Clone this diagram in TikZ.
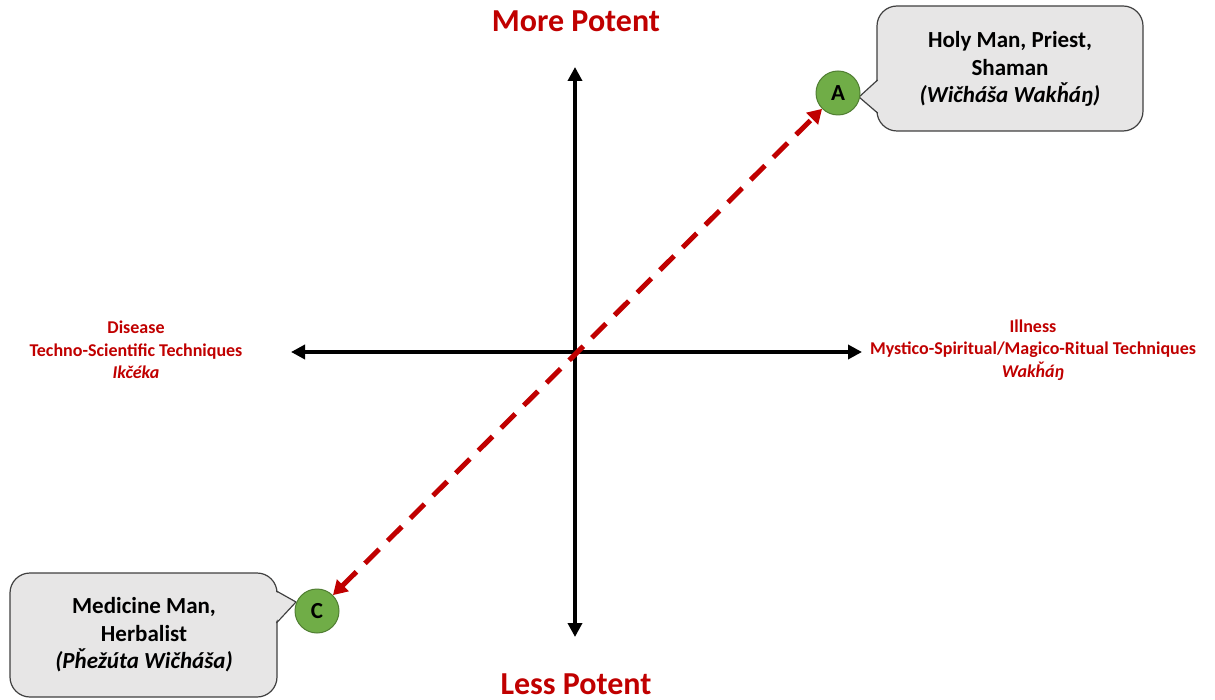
\documentclass[tikz,border=0pt]{standalone}
\usepackage{fontspec}
\setmainfont{Carlito}
\usetikzlibrary{arrows.meta}
\definecolor{dred}{HTML}{C00000}
\definecolor{lgreen}{HTML}{70AD47}
\definecolor{dgreen}{HTML}{507E32}
\definecolor{boxgray}{HTML}{E7E6E6}
\definecolor{boxline}{HTML}{404040}
\tikzset{
  axis/.style={line width=4pt,{Triangle[length=14pt,width=14pt]}-{Triangle[length=14pt,width=14pt]}},
  link/.style={dred,line width=5pt,dash pattern=on 20pt off 12pt,
    {Triangle[length=14pt,width=16pt]}-{Triangle[length=14pt,width=16pt]}},
  mark circ/.style={circle,fill=lgreen,draw=dgreen,line width=1pt,minimum size=44pt,inner sep=0pt,font=\fontsize{23}{26}\selectfont\bfseries},
  title/.style={dred,font=\fontsize{32}{36}\selectfont\bfseries},
  side/.style={dred,align=center,font=\fontsize{18}{22.5}\selectfont\bfseries},
  boxtxt/.style={align=center,font=\fontsize{23}{27.5}\selectfont\bfseries},
  callbox/.style={fill=boxgray,draw=boxline,line width=1.2pt,rounded corners=20pt},
}
\begin{document}
\begin{tikzpicture}[x=1pt,y=-1pt]
\useasboundingbox (0,0) rectangle (1215,700);
% axes
\coordinate (top) at (575,67);
\coordinate (bot) at (575,637);
\coordinate (lft) at (291,352);
\coordinate (rgt) at (862,352);
\draw[axis] (bot) -- (top);
\draw[axis] (lft) -- (rgt);
% titles
\node[title] (more) at (576,21) {More Potent};
\node[title] (less) at (576,684) {Less Potent};
\node[side] (dis) at (136,350) {Disease\\Techno-Scientific Techniques\\\textit{Ikčéka}};
\node[side] (ill) at (1033,350) {Illness\\Mystico-Spiritual/Magico-Ritual Techniques\\\textit{Wakȟáŋ}};
% callout A
\draw[callbox] (877,6) rectangle (1143,131);
\fill[boxgray] (880,79) -- (859,97) -- (880,114) -- cycle;
\draw[boxline,line width=1.2pt,line join=round] (877.6,80) -- (859,97) -- (877.6,113);
\node[boxtxt] (ta) at (1010,69) {Holy Man, Priest,\\Shaman\\\textit{(Wičháša Wakȟáŋ)}};
% callout C
\draw[callbox] (10,573) rectangle (277,697);
\fill[boxgray] (274,591) -- (296,602) -- (274,623) -- cycle;
\draw[boxline,line width=1.2pt,line join=round] (276.4,591) -- (296,602) -- (276.4,623);
\node[boxtxt] (tc) at (144,635) {Medicine Man,\\Herbalist\\\textit{(Pȟežúta Wičháša)}};
% circles
\node[mark circ] (A) at (838,93) {A};
\node[mark circ] (C) at (317,611) {C};
% dashed link
\draw[link] (C) -- (A);
\end{tikzpicture}
\end{document}
